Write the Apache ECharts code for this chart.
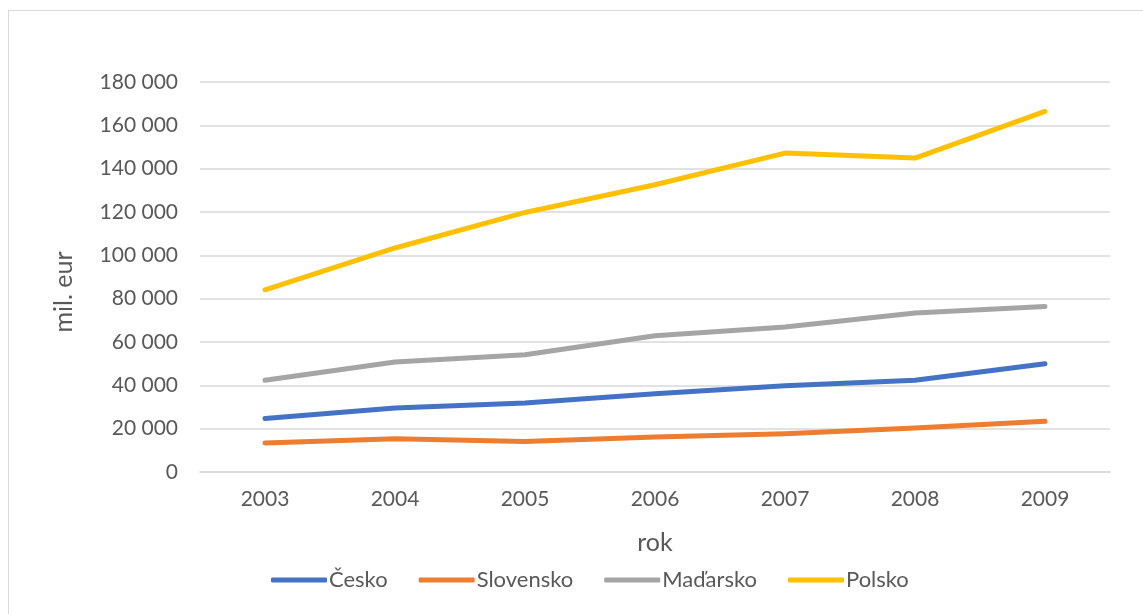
<!DOCTYPE html>
<html>
<head>
<meta charset="utf-8">
<script src="https://cdn.jsdelivr.net/npm/echarts@6/dist/echarts.min.js"></script>
<style>
  html, body { margin: 0; padding: 0; background: #fff; }
  #frame {
    position: absolute; left: 8px; top: 10px; width: 1200px; height: 700px;
    border-left: 1px solid #d9d9d9; border-top: 1px solid #d9d9d9;
  }
  #chart { position: absolute; left: 0; top: 0; width: 1143px; height: 614px; }
</style>
</head>
<body>
<div id="frame"></div>
<div id="chart"></div>
<script>
// roky a hodnoty (mil. eur)
const years = ["2003", "2004", "2005", "2006", "2007", "2008", "2009"];
const cesko = [24700, 29500, 31800, 36100, 39800, 42300, 50000];
const slovensko = [13400, 15400, 14100, 16200, 17700, 20300, 23400];
const madarsko = [42300, 50800, 54100, 62900, 66900, 73400, 76400];
const polsko = [84100, 103400, 119800, 132600, 147200, 144900, 166400];

const names = ["Česko", "Slovensko", "Maďarsko", "Polsko"];
const colors = ["#4472c4", "#ed7d31", "#a5a5a5", "#ffc000"];
const values = [cesko, slovensko, madarsko, polsko];

const font = "Lato, 'Open Sans', sans-serif";
const txt = "#595959";

function fmt(v) {
  // mezera jako oddělovač tisíců
  return String(v).replace(/\B(?=(\d{3})+(?!\d))/g, " ");
}

let chart = echarts.init(document.getElementById("chart"));
let option = {
  animation: false,
  color: colors,
  grid: { left: 200, right: 33, top: 82, bottom: 142 },
  legend: {
    bottom: 18,
    left: 266,
    itemWidth: 56,
    itemHeight: 5,
    itemGap: 31,
    icon: "roundRect",
    textStyle: { color: txt, fontSize: 22, fontFamily: font, padding: [0, 0, 0, -3] },
    data: names
  },
  xAxis: {
    type: "category",
    data: years,
    name: "rok",
    nameLocation: "middle",
    nameGap: 58,
    nameTextStyle: { color: txt, fontSize: 25, fontFamily: font },
    axisLine: { lineStyle: { color: "#d9d9d9", width: 1.5 } },
    axisTick: { show: false },
    axisLabel: { color: txt, fontSize: 21, fontFamily: font, margin: 17 }
  },
  yAxis: {
    type: "value",
    min: 0,
    max: 180000,
    interval: 20000,
    name: "mil. eur",
    nameLocation: "middle",
    nameRotate: 90,
    nameGap: 124,
    nameTextStyle: { color: txt, fontSize: 25, fontFamily: font, padding: [0, 30, 0, 0] },
    axisLine: { show: false },
    axisTick: { show: false },
    splitLine: { lineStyle: { color: "#d9d9d9", width: 1.5 } },
    axisLabel: { color: txt, fontSize: 21, fontFamily: font, margin: 22, formatter: fmt }
  },
  series: names.map((n, i) => ({
    name: n,
    type: "line",
    data: values[i],
    symbol: "none",
    lineStyle: { width: 5, cap: "round", join: "round" }
  }))
};
chart.setOption(option);
</script>
</body>
</html>
